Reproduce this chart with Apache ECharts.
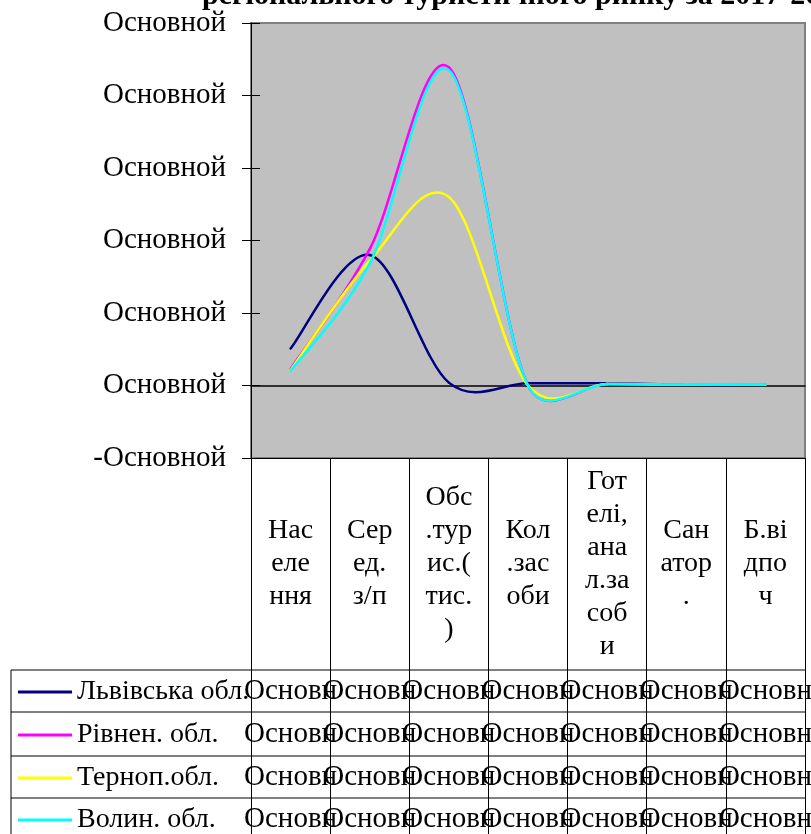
<!DOCTYPE html>
<html><head><meta charset="utf-8">
<script src="https://cdn.jsdelivr.net/npm/echarts@6/dist/echarts.min.js"></script>
<style>html,body{margin:0;padding:0;background:#fff;overflow:hidden}#c{width:811px;height:834px}</style>
</head><body><div id="c"></div>
<script>
// ---- data ----
const categories = ['Нас\nеле\nння', 'Сер\nед.\nз/п', 'Обс\n.тур\nис.(\nтис.\n)', 'Кол\n.зас\nоби', 'Гот\nелі,\nана\nл.за\nсоб\nи', 'Сан\nатор\n.', 'Б.ві\nдпо\nч'];
const seriesNames = ['Львівська обл.', 'Рівнен. обл.', 'Терноп.обл.', 'Волин. обл.'];
const lviv     = [0.51, 1.80, 0.04, 0.03, 0.03, 0.01, 0.01];
const rivne    = [0.23, 1.88, 4.39, 0.00, 0.02, 0.01, 0.01];
const ternopil = [0.21, 1.72, 2.60, 0.00, 0.02, 0.01, 0.01];
const volyn    = [0.20, 1.68, 4.35, 0.00, 0.02, 0.01, 0.01];
const yTickLabels = ['-Основной', 'Основной', 'Основной', 'Основной', 'Основной', 'Основной', 'Основной'];
const cellText = 'Основной';
const titleText = 'регіонального туристичного ринку за 2017-2019 рр.';

// ---- styles ----
const FONT = 'Liberation Serif';
const colors = ['#000080', '#FF00FF', '#FFFF00', '#00FFFF'];
const seriesData = [lviv, rivne, ternopil, volyn];
const rowMargins = [233, 276, 319, 361];
const legendTops = [678, 721, 764, 806];

const chart = echarts.init(document.getElementById('c'), null, {renderer: 'canvas', width: 811, height: 834});

// Excel-like smoothed line: each segment is a cubic Bezier between data points,
// positions obtained from the axes via api.coord.
function excelSmooth(values, color) {
  return function (params, api) {
    const i = params.dataIndex;
    const n = values.length;
    if (i >= n - 1) return null;
    const P = function (k) { k = Math.max(0, Math.min(n - 1, k)); return api.coord([k, values[k]]); };
    const p0 = P(i - 1), p1 = P(i), p2 = P(i + 1), p3 = P(i + 2);
    const seg = Math.hypot(p2[0] - p1[0], p2[1] - p1[1]);
    function ctrl(a, b) {
      let vx = (b[0] - a[0]) / 6, vy = (b[1] - a[1]) / 6;
      const L = Math.hypot(vx, vy), lim = seg * 0.5;
      if (L > lim && L > 0) { vx *= lim / L; vy *= lim / L; }
      return [vx, vy];
    }
    const c1 = ctrl(p0, p2), c2 = ctrl(p1, p3);
    return {
      type: 'bezierCurve',
      shape: {x1: p1[0], y1: p1[1], cpx1: p1[0] + c1[0], cpy1: p1[1] + c1[1],
              cpx2: p2[0] - c2[0], cpy2: p2[1] - c2[1], x2: p2[0], y2: p2[1]},
      style: {stroke: color, lineWidth: 2.5, fill: 'none', lineCap: 'round'}
    };
  };
}

const xAxes = [
  { // zero line
    type: 'category', data: categories, gridIndex: 0, position: 'bottom',
    axisLine: {show: true, onZero: true, onZeroAxisIndex: 0, lineStyle: {color: '#000', width: 1.5}},
    axisTick: {show: false}, axisLabel: {show: false}, splitLine: {show: false}
  },
  { // category header with long ticks forming the table columns
    type: 'category', data: categories, gridIndex: 0, position: 'bottom',
    axisLine: {show: true, onZero: false, lineStyle: {color: '#000', width: 1}},
    axisTick: {show: true, interval: 0, length: 390, lineStyle: {color: '#000', width: 1}},
    axisLabel: {show: true, interval: 0, margin: 106, verticalAlign: 'middle', align: 'center',
      fontFamily: FONT, fontSize: 28, lineHeight: 33, color: '#000'},
    splitLine: {show: false}
  }
];
rowMargins.forEach(function (m) {
  xAxes.push({
    type: 'category', data: categories, gridIndex: 0, position: 'bottom',
    axisLine: {show: false, onZero: false}, axisTick: {show: false}, splitLine: {show: false},
    axisLabel: {show: true, interval: 0, margin: m, verticalAlign: 'middle', align: 'center',
      fontFamily: FONT, fontSize: 29, color: '#000',
      formatter: function () { return cellText.slice(0, 6); }}
  });
});

const option = {
  animation: false,
  backgroundColor: '#ffffff',
  color: colors,
  title: {
    text: titleText, left: 202, top: -19, padding: 0,
    textStyle: {fontFamily: FONT, fontSize: 30, fontWeight: 'bold', color: '#000'}
  },
  legend: seriesNames.map(function (n, i) {
    return {
      orient: 'vertical', left: 18, top: legendTops[i], itemWidth: 54, itemHeight: 3,
      icon: 'rect', selectedMode: false, padding: 0,
      textStyle: {fontFamily: FONT, fontSize: 28, color: '#000', lineHeight: 26},
      data: [{name: n, itemStyle: {color: colors[i]}}]
    };
  }),
  grid: {
    left: 251, right: 6, top: 23, bottom: 376, containLabel: false, outerBoundsMode: 'none',
    show: true, backgroundColor: '#c0c0c0', borderColor: '#808080', borderWidth: 2
  },
  xAxis: xAxes,
  yAxis: [
    {
      type: 'value', min: -1, max: 5, interval: 1, position: 'left',
      axisLine: {show: true, lineStyle: {color: '#000', width: 1}},
      axisTick: {show: true, inside: false, length: 9, lineStyle: {color: '#000'}},
      splitLine: {show: false},
      axisLabel: {margin: 25, fontFamily: FONT, fontSize: 29, color: '#000',
        formatter: function (v) { return yTickLabels[Math.round(v) + 1]; }}
    },
    {
      type: 'value', min: -1, max: 5, interval: 1, position: 'left',
      axisLine: {show: false}, axisLabel: {show: false}, splitLine: {show: false},
      axisTick: {show: true, inside: true, length: 9, lineStyle: {color: '#000'}}
    }
  ],
  graphic: [
    {type: 'line', shape: {x1: 11, y1: 670, x2: 805, y2: 670}, style: {stroke: '#000', lineWidth: 1}, silent: true},
    {type: 'line', shape: {x1: 11, y1: 712, x2: 805, y2: 712}, style: {stroke: '#000', lineWidth: 1}, silent: true},
    {type: 'line', shape: {x1: 11, y1: 756, x2: 805, y2: 756}, style: {stroke: '#000', lineWidth: 1}, silent: true},
    {type: 'line', shape: {x1: 11, y1: 798, x2: 805, y2: 798}, style: {stroke: '#000', lineWidth: 1}, silent: true},
    {type: 'line', shape: {x1: 11, y1: 670, x2: 11, y2: 840}, style: {stroke: '#000', lineWidth: 1}, silent: true}
  ],
  series: seriesNames.map(function (name, i) {
    return {
      name: name, type: 'custom', xAxisIndex: 0, yAxisIndex: 0,
      data: seriesData[i].map(function (v, k) { return [k, v]; }),
      encode: {x: 0, y: 1},
      renderItem: excelSmooth(seriesData[i], colors[i]),
      itemStyle: {color: colors[i]},
      z: 3 + i
    };
  })
};
chart.setOption(option);
</script>
</body></html>
